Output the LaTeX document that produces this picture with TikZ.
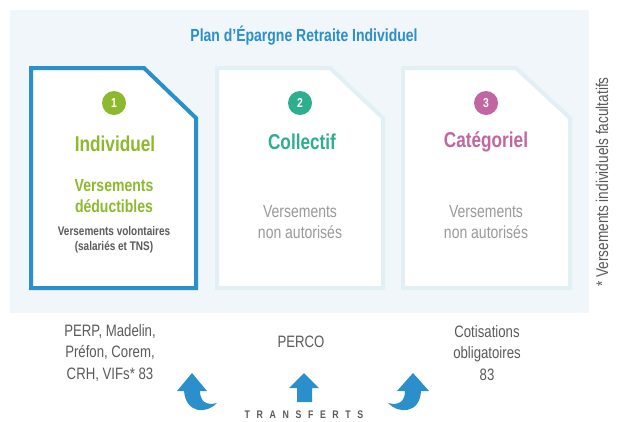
\documentclass[tikz,border=0pt]{standalone}
\usepackage{fontspec}
\setmainfont{Liberation Sans}[FakeStretch=0.8]
\definecolor{panel}{HTML}{F0F6FA}
\definecolor{tblue}{HTML}{2B8FCB}
\definecolor{cgreen}{HTML}{8DB92E}
\definecolor{cteal}{HTML}{2DAE8F}
\definecolor{cmag}{HTML}{C166A0}
\definecolor{pale}{HTML}{E2EFF4}
\definecolor{txtgray}{HTML}{5A5A5A}
\definecolor{lgray}{HTML}{9A9A9A}
\tikzset{
  numdot/.style={circle, fill=#1, text=white, minimum size=24pt, inner sep=0pt,
    font=\bfseries\fontsize{13}{13}\selectfont},
  cardtitle/.style={text=#1, font=\bfseries\fontsize{21.5}{24}\selectfont},
  nontxt/.style={text=lgray, align=center, font=\fontsize{17.5}{21}\selectfont},
  bottomtxt/.style={text=txtgray, align=center, font=\fontsize{16.5}{21.5}\selectfont},
  arrowshape/.style={fill=tblue, draw=none}
}
\begin{document}
\begin{tikzpicture}[x=1pt,y=-1pt]
\useasboundingbox (0,0) rectangle (620,421);
\fill[panel] (10,10) rectangle (589,313);
\node[text=tblue, font=\bfseries\fontsize{17.5}{20}\selectfont] (title) at (304,36) {Plan d’Épargne Retraite Individuel};
% cards
\draw[fill=white, draw=tblue, line width=4pt] (31,68) -- (144,68) -- (196,118) -- (196,288) -- (31,288) -- cycle;
\draw[fill=white, draw=pale, line width=4pt] (217,68) -- (330,68) -- (383,118) -- (383,288) -- (217,288) -- cycle;
\draw[fill=white, draw=pale, line width=4pt] (403,68) -- (516,68) -- (570,118) -- (570,288) -- (403,288) -- cycle;
% card 1
\node[numdot=cgreen] (n1) at (114,103) {1};
\node[cardtitle=cgreen] (t1) at (115,144) {Individuel};
\node[text=cgreen, align=center, font=\bfseries\fontsize{17.5}{21}\selectfont] (d1) at (114,196) {Versements\\déductibles};
\node[text=txtgray, align=center, font=\bfseries\fontsize{12.5}{15}\selectfont] (v1) at (114,240) {Versements volontaires\\(salariés et TNS)};
% card 2
\node[numdot=cteal] (n2) at (300,103) {2};
\node[cardtitle=cteal] (t2) at (302,142) {Collectif};
\node[nontxt] (v2) at (300,222) {Versements\\non autorisés};
% card 3
\node[numdot=cmag] (n3) at (486,103) {3};
\node[cardtitle=cmag] (t3) at (486,142) {Catégoriel};
\node[nontxt] (v3) at (486,222) {Versements\\non autorisés};
% side note
\node[rotate=90, text=txtgray, font=\fontsize{17}{18}\selectfont] (side) at (602,182) {* Versements individuels facultatifs};
% bottom texts
\node[bottomtxt] (b1) at (110,353) {PERP, Madelin,\\Préfon, Corem,\\CRH, VIFs* 83};
\node[bottomtxt] (b2) at (301,342) {PERCO};
\node[bottomtxt] (b3) at (487,353) {Cotisations\\obligatoires\\83};
% arrows
\fill[arrowshape] (177,391) -- (192,373) -- (207,391) -- (200,391)
  .. controls (200,401) and (206,406) .. (217,403)
  .. controls (207,414) and (186,414) .. (184,391) -- cycle;
\fill[arrowshape] (289,388) -- (304,373) -- (319,388) -- (312,388) -- (312,402) -- (297,402) -- (297,388) -- cycle;
\fill[arrowshape] (429,391) -- (413,373) -- (397,391) -- (405,391)
  .. controls (405,401) and (399,406) .. (388,403)
  .. controls (398,414) and (420,414) .. (421,391) -- cycle;
\node[text=txtgray, font=\bfseries\fontsize{11}{12}\selectfont\addfontfeatures{LetterSpace=60}] (tr) at (304,415) {TRANSFERTS};
\end{tikzpicture}
\end{document}
